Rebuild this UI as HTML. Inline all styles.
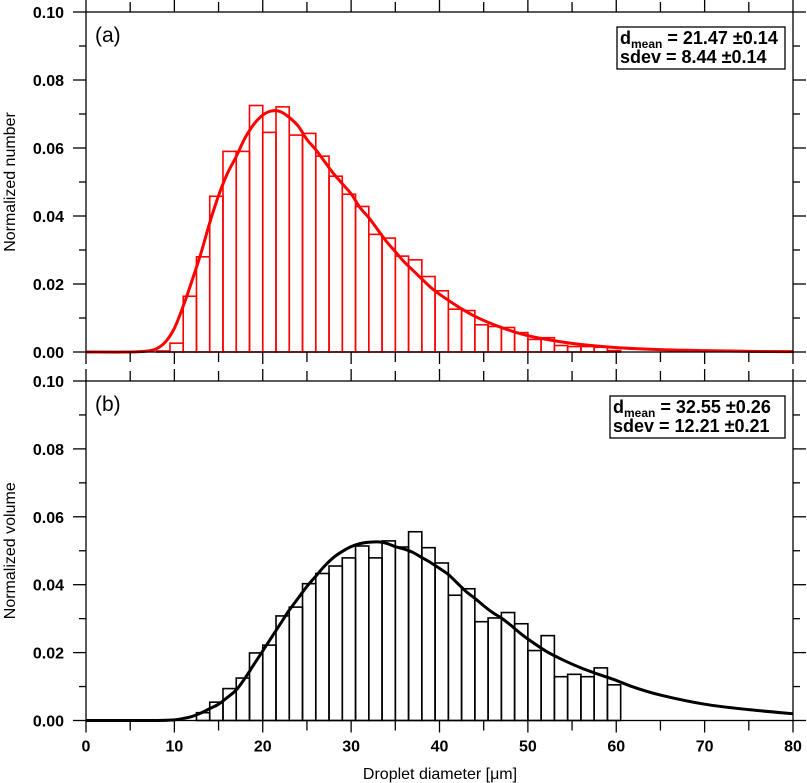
<!DOCTYPE html>
<html><head><meta charset="utf-8"><style>
body{margin:0;background:#fff}
svg{display:block;font-family:"Liberation Sans",Arial,sans-serif}
</style></head><body>
<svg id="chart" width="807" height="783" viewBox="0 0 807 783"></svg>
<script>
const binStartA = 8, binStartB = 8, binWidth = 1.5;
const numberBars = [0.0003,0.0026,0.0164,0.028,0.0458,0.059,0.059,0.0725,0.0646,0.0721,0.0638,0.0643,0.0576,0.0517,0.0464,0.0428,0.0346,0.0335,0.0282,0.0271,0.0222,0.018,0.0126,0.0122,0.008,0.0075,0.0072,0.0057,0.0037,0.0042,0.0019,0.0016,0.0016,0.0014,0.0004];
const volumeBars = [0,0,0,0.0023,0.0054,0.0094,0.0125,0.0199,0.0222,0.0308,0.0334,0.0403,0.0433,0.0455,0.0479,0.0514,0.0479,0.0529,0.0511,0.0556,0.0509,0.0464,0.0369,0.0388,0.0291,0.0302,0.0318,0.0285,0.0206,0.025,0.0129,0.0136,0.0129,0.0155,0.0105];
const fitAX = [0,5,7,8,9,10,11,12,13,14,15,16,17,18,19,20,21,22,23,24,25,26,27,28,29,30,31,32,33,34,35,36,37,38,39,40,42,44,46,48,50,53,56,60,65,70,75,80];
const fitAY = [0,0,0.0003,0.001,0.003,0.007,0.0135,0.021,0.029,0.038,0.046,0.0525,0.0575,0.063,0.067,0.0697,0.0709,0.0707,0.069,0.0665,0.0625,0.0595,0.056,0.0525,0.0495,0.0465,0.0425,0.0395,0.036,0.0325,0.0295,0.0265,0.024,0.0215,0.019,0.017,0.0135,0.0105,0.0082,0.0063,0.0048,0.0033,0.0022,0.0013,0.0007,0.0004,0.0002,0.0001];
const fitBX = [0,8,10,11,12,13,14,15,16,17,18,19,20,21,22,23,24,25,26,27,28,29,30,31,32,33,34,35,36,37,38,39,40,41,42,43,44,45,46,47,48,49,50,52,54,56,58,60,62,65,70,75,80];
const fitBY = [0,0,0.0002,0.0006,0.0012,0.0022,0.0035,0.0048,0.0068,0.009,0.0125,0.0165,0.0205,0.0245,0.0285,0.0325,0.036,0.0395,0.0425,0.0455,0.048,0.0498,0.0512,0.0521,0.0525,0.0526,0.0522,0.0512,0.0505,0.0495,0.048,0.0465,0.0448,0.043,0.0405,0.038,0.036,0.0338,0.0318,0.0302,0.0282,0.026,0.024,0.0205,0.0178,0.0155,0.0136,0.0118,0.0098,0.0075,0.0048,0.0032,0.002];
const xTickLabels = ["0","10","20","30","40","50","60","70","80"];
const yTickLabels = ["0.00","0.02","0.04","0.06","0.08","0.10"];

const svg = document.getElementById('chart');
const NS = 'http://www.w3.org/2000/svg';
const X0 = 86, X1 = 793;
const xs = v => X0 + (v / 80) * (X1 - X0);
function mk(tag, attrs, parent) {
  const e = document.createElementNS(NS, tag);
  for (const k in attrs) e.setAttribute(k, attrs[k]);
  (parent || svg).appendChild(e);
  return e;
}
function smoothPath(pts) {
  let d = 'M' + pts[0][0].toFixed(2) + ',' + pts[0][1].toFixed(2);
  for (let i = 0; i < pts.length - 1; i++) {
    const p0 = pts[Math.max(0, i - 1)], p1 = pts[i], p2 = pts[i + 1], p3 = pts[Math.min(pts.length - 1, i + 2)];
    const c1 = [p1[0] + (p2[0] - p0[0]) / 6, p1[1] + (p2[1] - p0[1]) / 6];
    const c2 = [p2[0] - (p3[0] - p1[0]) / 6, p2[1] - (p3[1] - p1[1]) / 6];
    d += 'C' + c1.map(v => v.toFixed(2)).join(',') + ' ' + c2.map(v => v.toFixed(2)).join(',') + ' ' + p2.map(v => v.toFixed(2)).join(',');
  }
  return d;
}
function panel(top, bot, bars, start, fx, fy, color, label, legend1, legend2, name, ytitle, showX) {
  const g = mk('g', {});
  
  
  const ys = v => bot - (v / 0.1) * (bot - top);
  bars.forEach((v, i) => {
    if (v <= 0) return;
    const x0 = start + i * binWidth;
    const r = mk('rect', {x: xs(x0), y: ys(v), width: xs(x0 + binWidth) - xs(x0), height: bot - ys(v), fill: 'none', stroke: color, 'stroke-width': 1.6}, g);
    
    
  });
  const pts = fx.map((x, i) => [xs(x), ys(fy[i])]);
  const p = mk('path', {d: smoothPath(pts), fill: 'none', stroke: color, 'stroke-width': 3, 'stroke-linejoin': 'round'}, g);
  
  
  const f = mk('rect', {x: X0, y: top, width: X1 - X0, height: bot - top, fill: 'none', stroke: '#000', 'stroke-width': 1.3}, g);
  
  
  for (let k = 0; k <= 10; k++) {
    const y = ys(k * 0.01), major = k % 2 === 0, L = major ? 13 : 7;
    mk('line', {x1: X0 - L, x2: X0, y1: y, y2: y, stroke: '#000', 'stroke-width': 1.3}, g);
    mk('line', {x1: X1, x2: X1 + L, y1: y, y2: y, stroke: '#000', 'stroke-width': 1.3}, g);
    if (major) {
      const t = mk('text', {x: 64, y: y + 6, 'text-anchor': 'end', 'font-size': 16, 'font-weight': 'bold'}, g);
      t.textContent = yTickLabels[k / 2];
      
      
    }
  }
  for (let k = 0; k <= 16; k++) {
    const x = xs(k * 5), L = k % 2 === 0 ? 12 : 10;
    mk('line', {x1: x, x2: x, y1: top - L, y2: top, stroke: '#000', 'stroke-width': 1.3}, g);
    mk('line', {x1: x, x2: x, y1: bot, y2: bot + L, stroke: '#000', 'stroke-width': 1.3}, g);
    if (showX && k % 2 === 0) {
      const t = mk('text', {x: x, y: bot + 31, 'text-anchor': 'middle', 'font-size': 16, 'font-weight': 'bold'}, g);
      t.textContent = xTickLabels[k / 2];
      
      
    }
  }
  const lab = mk('text', {x: 95, y: top + 30, 'font-size': 21}, g);
  lab.textContent = label;
  
  
  const lg = mk('g', {}, g);
  
  
  mk('rect', {x: legend1.x, y: top + 15, width: 785 - legend1.x, height: 42, fill: '#fff', stroke: '#000', 'stroke-width': 1.3}, lg);
  const t1 = mk('text', {x: legend1.x + 3, y: top + 32, 'font-size': 18, 'font-weight': 'bold'}, lg);
  t1.innerHTML = 'd<tspan font-size="12" dy="4">mean</tspan><tspan dy="-4"> = ' + legend1.t + '</tspan>';
  const t2 = mk('text', {x: legend1.x + 3, y: top + 51, 'font-size': 18, 'font-weight': 'bold'}, lg);
  t2.textContent = legend2;
  const yt = mk('text', {x: 0, y: 0, transform: 'translate(15,' + ((top + bot) / 2) + ') rotate(-90)', 'text-anchor': 'middle', 'font-size': 16}, g);
  yt.textContent = ytitle;
  
  
}
panel(12, 352, numberBars, binStartA, fitAX, fitAY, '#ff0000', '(a)', {x: 617, t: '21.47 \u00b10.14'}, 'sdev = 8.44 \u00b10.14', 'panel-a-number', 'Normalized number', false);
panel(381, 720.5, volumeBars, binStartB, fitBX, fitBY, '#000000', '(b)', {x: 610, t: '32.55 \u00b10.26'}, 'sdev = 12.21 \u00b10.21', 'panel-b-volume', 'Normalized volume', true);
const xt = mk('text', {x: 440, y: 779, 'text-anchor': 'middle', 'font-size': 16});
xt.textContent = 'Droplet diameter [\u03bcm]';


</script>
</body></html>
